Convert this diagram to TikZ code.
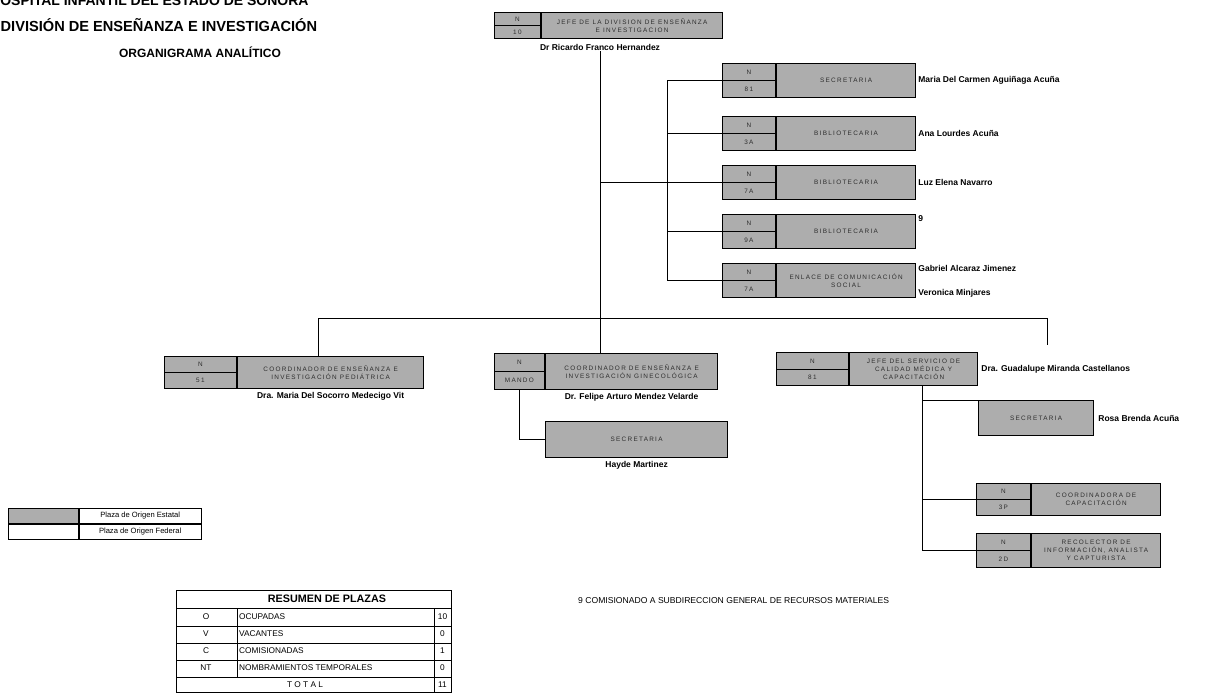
\documentclass[tikz,border=0pt]{standalone}
\usepackage{fontspec}
\setmainfont{Liberation Sans}
\newfontfamily\cargofamily[LetterSpace=20]{Liberation Sans}
\usetikzlibrary{positioning, calc}
\definecolor{gris}{gray}{0.68}
\definecolor{tinta}{gray}{0.18}
\newcommand{\cargofont}{\cargofamily\fontsize{6.4}{8}\selectfont}
\newcommand{\nombrefont}{\bfseries\fontsize{8.5}{10}\selectfont}
\newcommand{\chicafont}{\fontsize{7.6}{9}\selectfont}
\newcommand{\tablafont}{\fontsize{8.3}{9}\selectfont}
\tikzset{basic/.style={draw, line width=1.2pt}}
\tikzset{cargo/.style={basic, fill=gris, text=tinta, font=\cargofont, align=center, anchor=north west, inner sep=1pt}}
\tikzset{clave/.style={draw=none, fill=none, midway, anchor=center, minimum width=0pt, minimum height=0pt, inner sep=1pt, font=\cargofont, text=tinta}}
\tikzset{codigo/.style n args={2}{%
     basic, fill=gris, anchor=north east, inner sep=0pt,
     path picture={%
            \draw[line width=0.6pt] (path picture bounding box.west) -- (path picture bounding box.east);
            \path (path picture bounding box.center) -- node[clave] {#1} (path picture bounding box.north);
            \path (path picture bounding box.center) -- node[clave] {#2} (path picture bounding box.south);
      }
   }
}
\tikzset{nombre/.style={font=\nombrefont, inner sep=1pt}}
\tikzset{linea/.style={line width=0.8pt}}
\tikzset{celda/.style={draw, line width=0.8pt, anchor=north west, inner sep=0pt, font=\chicafont}}

\begin{document}
\begin{tikzpicture}[x=1pt, y=-1pt]

    \path[fill=white, use as bounding box] (0,0) rectangle (1210,694);

    \node[font=\bfseries\fontsize{14}{16}\selectfont, anchor=west, inner sep=0pt] (hosp) at (-10,1) {HOSPITAL INFANTIL DEL ESTADO DE SONORA};
    \node[font=\bfseries\fontsize{14.6}{17}\selectfont, anchor=west, inner sep=0pt] (div) at (0.5,25) {DIVISIÓN DE ENSEÑANZA E INVESTIGACIÓN};
    \node[font=\bfseries\fontsize{12}{14}\selectfont, inner sep=0pt] (org) at (200,52) {ORGANIGRAMA ANALÍTICO};

    \node[cargo, minimum width=181, minimum height=26] (jefe) at (541,12) {JEFE DE LA DIVISION DE ENSEÑANZA\\E INVESTIGACION};
    \node[codigo={N}{10}, minimum width=46, minimum height=26] (jefeC) at (jefe.north west) {};
    \node[nombre] (nomJefe) at (600,47) {Dr Ricardo Franco Hernandez};

    \node[cargo, minimum width=139, minimum height=34] (sec) at (776,63) {SECRETARIA};
    \node[codigo={N}{81}, minimum width=53, minimum height=34] (secC) at (sec.north west) {};
    \node[cargo, minimum width=139, minimum height=34] (bib1) at (776,116) {BIBLIOTECARIA};
    \node[codigo={N}{3A}, minimum width=53, minimum height=34] (bib1C) at (bib1.north west) {};
    \node[cargo, minimum width=139, minimum height=34] (bib2) at (776,165) {BIBLIOTECARIA};
    \node[codigo={N}{7A}, minimum width=53, minimum height=34] (bib2C) at (bib2.north west) {};
    \node[cargo, minimum width=139, minimum height=34] (bib3) at (776,214) {BIBLIOTECARIA};
    \node[codigo={N}{9A}, minimum width=53, minimum height=34] (bib3C) at (bib3.north west) {};
    \node[cargo, minimum width=139, minimum height=34] (enl) at (776,263) {ENLACE DE COMUNICACIÓN\\SOCIAL};
    \node[codigo={N}{7A}, minimum width=53, minimum height=34] (enlC) at (enl.north west) {};

    \node[nombre, right=1pt of sec] (nomSec) {Maria Del Carmen Aguiñaga Acuña};
    \node[nombre, right=1pt of bib1] (nomBib1) {Ana Lourdes Acuña};
    \node[nombre, right=1pt of bib2] (nomBib2) {Luz Elena Navarro};
    \node[nombre, anchor=north west] (nomBib3) at ([xshift=1pt]bib3.north east) {9};
    \node[nombre, anchor=north west] (nomEnl1) at ([xshift=1pt, yshift=-1pt]enl.north east) {Gabriel Alcaraz Jimenez};
    \node[nombre, anchor=south west] (nomEnl2) at ([xshift=1pt]enl.south east) {Veronica Minjares};

    \node[cargo, minimum width=186, minimum height=32] (ped) at (237,356) {COORDINADOR DE ENSEÑANZA E\\INVESTIGACIÓN PEDIÁTRICA};
    \node[codigo={N}{51}, minimum width=72, minimum height=32] (pedC) at (ped.north west) {};
    \node[nombre, below=2pt of ped] (nomPed) {Dra. Maria Del Socorro Medecigo Vit};

    \node[cargo, minimum width=172, minimum height=36] (gin) at (545,353) {COORDINADOR DE ENSEÑANZA E\\INVESTIGACIÓN GINECOLÓGICA};
    \node[codigo={N}{MANDO}, minimum width=50, minimum height=36] (ginC) at (gin.north west) {};
    \node[nombre, below=2pt of gin] (nomGin) {Dr. Felipe Arturo Mendez Velarde};
    \node[cargo, minimum width=182, minimum height=36] (secGin) at (545,421) {SECRETARIA};
    \node[nombre, below=2pt of secGin] (nomSecGin) {Hayde Martinez};

    \node[cargo, minimum width=128, minimum height=33] (cal) at (849,352) {JEFE DEL SERVICIO DE\\CALIDAD MÉDICA Y\\CAPACITACIÓN};
    \node[codigo={N}{81}, minimum width=72, minimum height=33] (calC) at (cal.north west) {};
    \node[nombre, right=2pt of cal] (nomCal) {Dra. Guadalupe Miranda Castellanos};
    \node[cargo, minimum width=115, minimum height=35] (secCal) at (978,400) {SECRETARIA};
    \node[nombre, right=3pt of secCal] (nomSecCal) {Rosa Brenda Acuña};
    \node[cargo, minimum width=129, minimum height=32] (coord) at (1031,483) {COORDINADORA DE\\CAPACITACIÓN};
    \node[codigo={N}{3P}, minimum width=54, minimum height=32] (coordC) at (coord.north west) {};
    \node[cargo, minimum width=129, minimum height=34] (rec) at (1031,533) {RECOLECTOR DE\\INFORMACIÓN, ANALISTA\\Y CAPTURISTA};
    \node[codigo={N}{2D}, minimum width=54, minimum height=34] (recC) at (rec.north west) {};

    \coordinate (rama) at (667,0);
    \coordinate (barraIzq) at (318,318);
    \coordinate (barraDer) at (1047,318);
    \coordinate (finDer) at (1047,345);
    \coordinate (ramaCal) at (922,0);

    \draw[linea] (nomJefe.south) -- (nomJefe.south |- gin.north);
    \draw[linea] (nomJefe.south |- bib2C.west) -- (bib2C.west);
    \draw[linea] (secC.west) -- (secC.west -| rama) -- (enlC.west -| rama) -- (enlC.west);
    \draw[linea] (bib1C.west -| rama) -- (bib1C.west);
    \draw[linea] (bib3C.west -| rama) -- (bib3C.west);
    \draw[linea] (ped.north -| barraIzq) -- (barraIzq) -- (barraDer) -- (finDer);
    \draw[linea] (ginC.south) -- (ginC.south |- secGin.west) -- (secGin.west);
    \draw[linea] (cal.south -| ramaCal) -- (recC.west -| ramaCal) -- (recC.west);
    \draw[linea] (ramaCal |- secCal.north west) -- (secCal.north west);
    \draw[linea] (coordC.west -| ramaCal) -- (coordC.west);

    \node[celda, fill=gris, minimum width=70, minimum height=15] (leyEst) at (8,508) {};
    \node[celda, minimum width=122, minimum height=15] (leyEstT) at (leyEst.north east) {Plaza de Origen Estatal};
    \node[celda, minimum width=70, minimum height=15] (leyFed) at (leyEst.south west) {};
    \node[celda, minimum width=122, minimum height=15] (leyFedT) at (leyFed.north east) {Plaza de Origen Federal};

    \draw[line width=1pt] (176,590) rectangle (451,692);
    \foreach \y in {608,626,643,660,677} {
        \draw[linea] (176,\y) -- (451,\y);
    }
    \draw[linea] (237,608) -- (237,677);
    \draw[linea] (434,608) -- (434,692);
    \node[font=\bfseries\fontsize{10.8}{12}\selectfont] (resumen) at (327,599) {RESUMEN DE PLAZAS};
    \foreach \c/\d/\n [count=\i] in {O/OCUPADAS/10, V/VACANTES/0, C/COMISIONADAS/1, NT/NOMBRAMIENTOS TEMPORALES/0} {
        \node[font=\tablafont] (cl\i) at (206,{599+17.2*\i}) {\c};
        \node[font=\tablafont, anchor=west, inner sep=1pt] (ds\i) at (238,{599+17.2*\i}) {\d};
        \node[font=\tablafont] (nm\i) at (442.5,{599+17.2*\i}) {\n};
    }
    \node[font=\tablafont] (total) at (305,684.5) {T O T A L};
    \node[font=\tablafont] (nmTotal) at (442.5,684.5) {11};

    \node[font=\fontsize{8.6}{10}\selectfont, anchor=west, inner sep=0pt] (nota) at (578,601) {9 COMISIONADO A SUBDIRECCION GENERAL DE RECURSOS MATERIALES};

\end{tikzpicture}
\end{document}
